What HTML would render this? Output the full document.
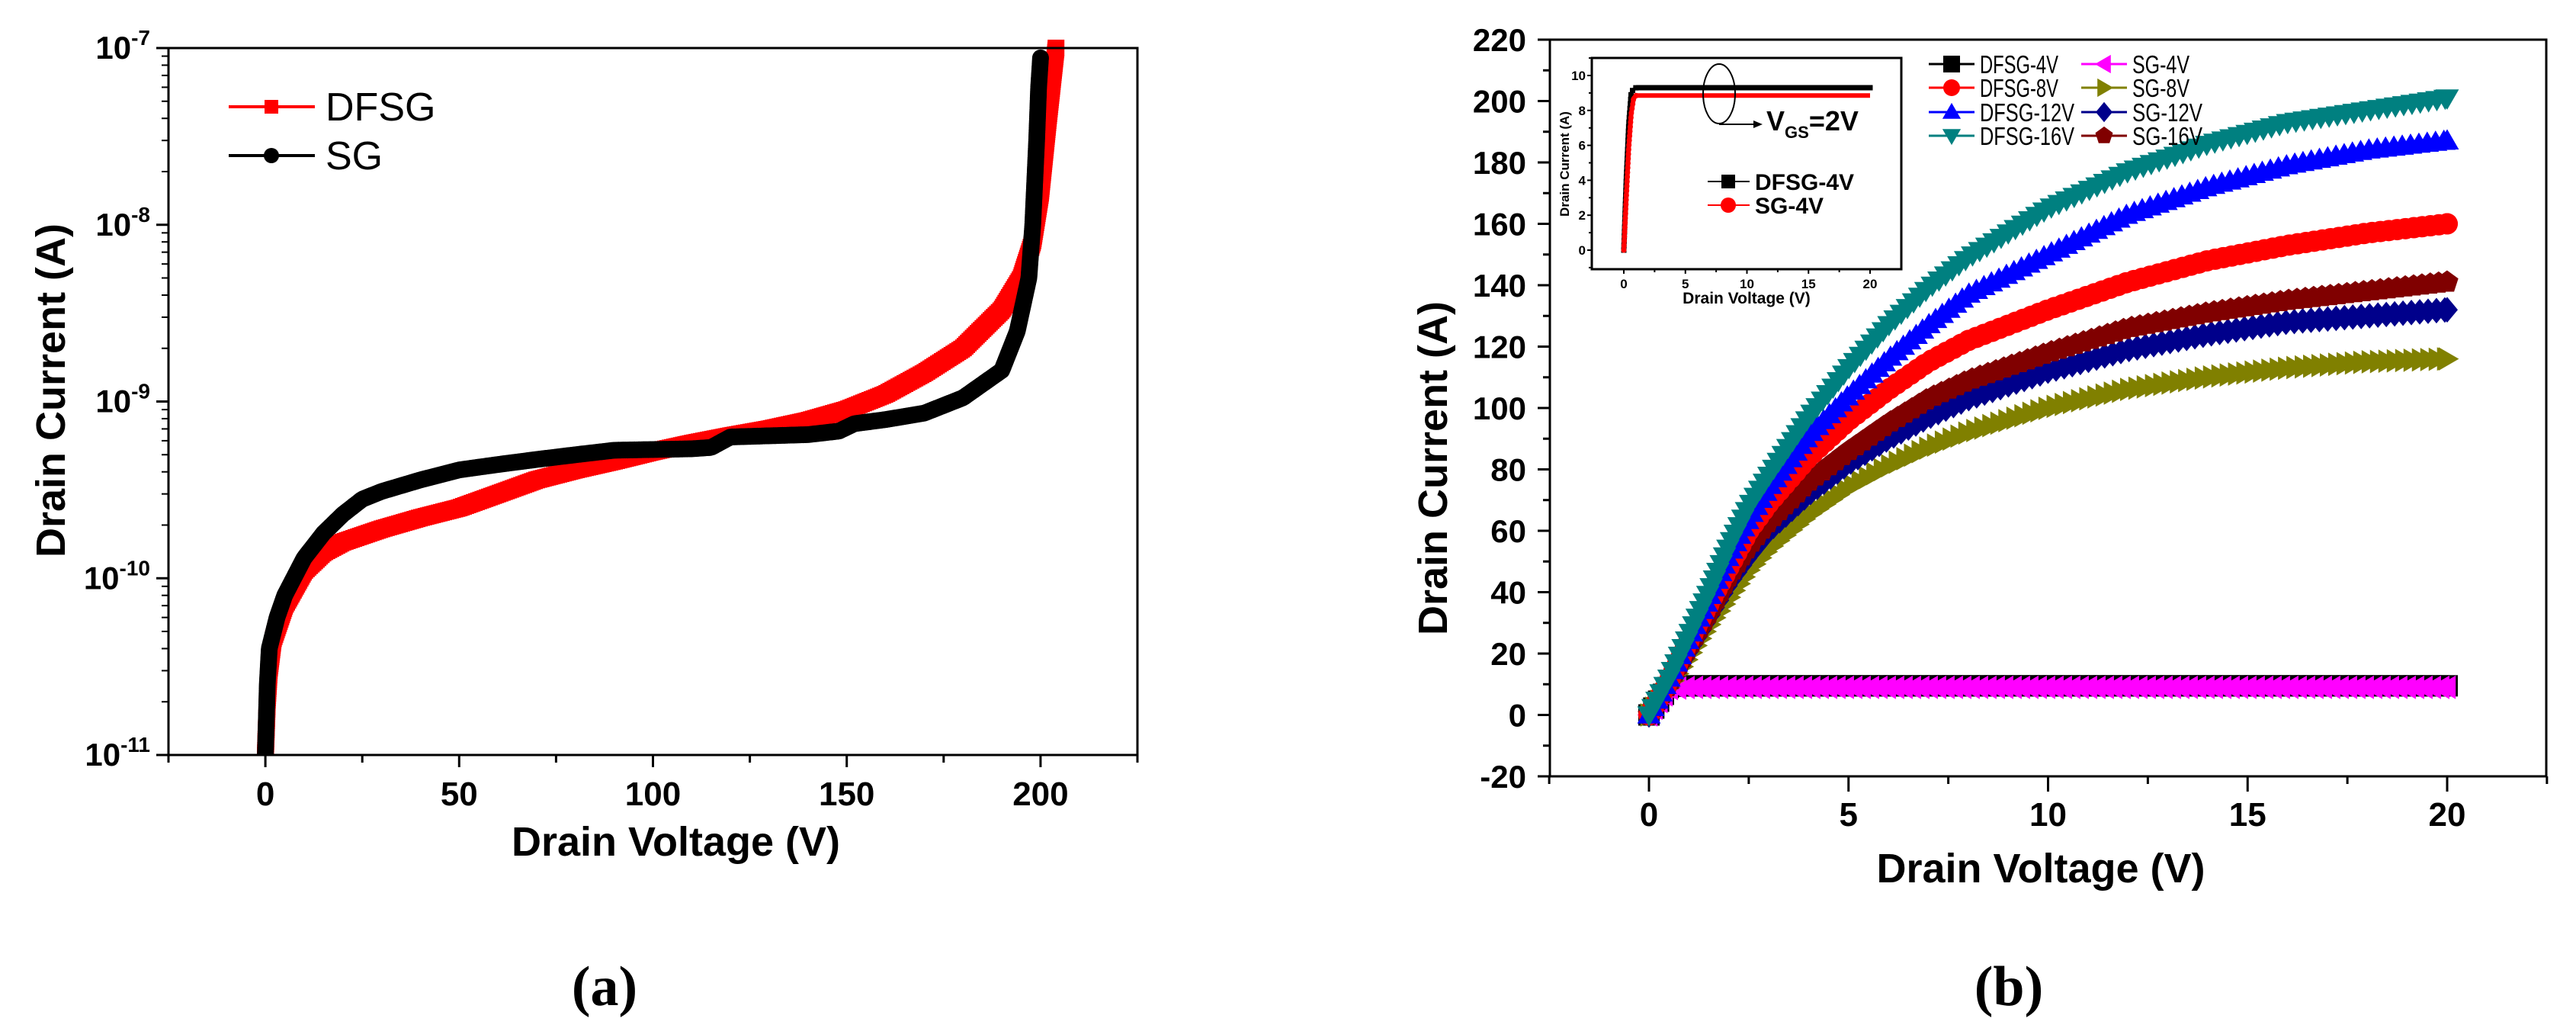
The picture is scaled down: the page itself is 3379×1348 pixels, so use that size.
<!DOCTYPE html>
<html><head><meta charset="utf-8"><style>
html,body{margin:0;padding:0;background:#fff;}
svg{display:block;font-family:"Liberation Sans",Arial,sans-serif;}
</style></head><body>
<svg id="s" width="3379" height="1348" viewBox="0 0 3379 1348" xmlns="http://www.w3.org/2000/svg">
<g id="ga"></g>
<g id="gb"></g>
<text x="793" y="1318" font-family="Liberation Serif,serif" font-weight="bold" font-size="74" text-anchor="middle">(a)</text>
<text x="2635" y="1318" font-family="Liberation Serif,serif" font-weight="bold" font-size="74" text-anchor="middle">(b)</text>
</svg>
<script>
// ---- chart (a) data ----
const aDfsgV=[0,0.5,1,2,5,10,15,20,30,40,50,60,70,80,90,100,110,120,130,140,150,160,170,180,190,195,198,200,202,204];
const aDfsgI=[1e-11,2e-11,3e-11,4.5e-11,7e-11,1.1e-10,1.4e-10,1.6e-10,1.9e-10,2.2e-10,2.5e-10,3e-10,3.6e-10,4.1e-10,4.6e-10,5.2e-10,5.8e-10,6.4e-10,7e-10,7.8e-10,9e-10,1.1e-9,1.45e-9,2e-9,3.3e-9,5e-9,8e-9,1.5e-8,4e-8,1e-7];
const aSgV=[0,0.5,1,3,5,10,15,20,25,30,40,50,60,70,80,90,110,115,120,140,148,152,160,170,180,190,194,197,198,199,199.5,200];
const aSgI=[1e-11,2.5e-11,4e-11,6e-11,8e-11,1.3e-10,1.8e-10,2.3e-10,2.8e-10,3.1e-10,3.6e-10,4.1e-10,4.4e-10,4.7e-10,5e-10,5.3e-10,5.4e-10,5.5e-10,6.3e-10,6.5e-10,6.8e-10,7.5e-10,7.9e-10,8.6e-10,1.05e-9,1.5e-9,2.5e-9,5e-9,1e-8,3e-8,6e-8,8.8e-8];
const aXTicks=[0,50,100,150,200];
const aYTicks=[-11,-10,-9,-8,-7];
// ---- chart (b) data ----
const bV=[0,0.5,1,1.5,2,2.5,3,4,5,6,7,8,10,12,14,16,18,20];
const bDfsg16=[0,12,26,40,55,68,78,97,113,127,139,149,165,177,186,193,197,201];
const bDfsg12=[0,12,25,38,52,64,74,91,104,116,127,137,150,163,172,179,184,187];
const bDfsg8=[0,11,24,36,48,60,69,84,96,106,115,122,132,141,148,153,157,160];
const bSg16=[0,10,22,33,45,55,63,76,86,95,103,109,118,126,131,135,138,141];
const bSg12=[0,10,21,32,43,52,60,72,82,90,97,103,112,119,124,128,130,132];
const bSg8=[0,9,19,29,38,47,54,65,74,81,87,92,100,106,110,113,115,116];
const bDfsg4=[0,9.3,9.5,9.5,9.5,9.5,9.5,9.5,9.5,9.5,9.5,9.5,9.5,9.5,9.5,9.5,9.5,9.5];
const bSg4=[0,8.6,9,9,9,9,9,9,9,9,9,9,9,9,9,9,9,9];
const bXTicks=[0,5,10,15,20];
const bYTicks=[-20,0,20,40,60,80,100,120,140,160,180,200,220];
// ---- inset data ----
const inV=[0,0.2,0.4,0.6,0.8,1,5,10,15,20];
const inDfsg=[0,4,7.2,9,9.25,9.3,9.3,9.3,9.3,9.3];
const inSg=[0,3,5.9,7.8,8.7,8.85,8.85,8.85,8.85,8.85];
const inXTicks=[0,5,10,15,20];
const inYTicks=[0,2,4,6,8,10];

const NS="http://www.w3.org/2000/svg";
function mk(p,tag,at,txt){const e=document.createElementNS(NS,tag);for(const k in at)e.setAttribute(k,at[k]);if(txt!==undefined)e.textContent=txt;p.appendChild(e);return e;}
function markerShape(p,type,x,y,s,c){
  let e;
  if(type==='sq')e=mk(p,'rect',{x:x-s/2,y:y-s/2,width:s,height:s,fill:c});
  else if(type==='ci')e=mk(p,'circle',{cx:x,cy:y,r:s/2,fill:c});
  else {let pts;const h=s/2;
    if(type==='up')pts=[[0,-h*1.1],[h*1.1,h*0.8],[-h*1.1,h*0.8]];
    else if(type==='dn')pts=[[0,h*1.1],[h*1.1,-h*0.8],[-h*1.1,-h*0.8]];
    else if(type==='lt')pts=[[-h*1.1,0],[h*0.8,h*1.1],[h*0.8,-h*1.1]];
    else if(type==='rt')pts=[[h*1.1,0],[-h*0.8,h*1.1],[-h*0.8,-h*1.1]];
    else if(type==='di')pts=[[0,-h*1.2],[h*1.0,0],[0,h*1.2],[-h*1.0,0]];
    else pts=[0,1,2,3,4].map(i=>{const a=-Math.PI/2+i*2*Math.PI/5;return [h*1.1*Math.cos(a),h*1.1*Math.sin(a)];});
    e=mk(p,'polygon',{points:pts.map(q=>(x+q[0])+','+(y+q[1])).join(' '),fill:c});}
  return e;
}
function series(g,xs,ys,sx,sy,color,lw,type,size,step,name){
  const grp=mk(g,'g',{});
  
  
  const d=xs.map((v,i)=>(i?'L':'M')+sx(v).toFixed(1)+','+sy(ys[i]).toFixed(1)).join(' ');
  const path=mk(grp,'path',{d:d,fill:'none',stroke:color,'stroke-width':lw,'stroke-linejoin':'round'});
  if(type){const L=path.getTotalLength();
    for(let l=0;l<=L;l+=step){const pt=path.getPointAtLength(l);markerShape(grp,type,pt.x,pt.y,size,color);}
    const pt=path.getPointAtLength(L);markerShape(grp,type,pt.x,pt.y,size,color);}
  return grp;
}
function frame(g,x0,y0,x1,y1,lw){mk(g,'rect',{x:x0,y:y0,width:x1-x0,height:y1-y0,fill:'none',stroke:'#000','stroke-width':lw});}

// ===== chart a =====
(function(){
const g=document.getElementById('ga');
const L=221,R=1492,T=63,B=990;
const sx=v=>L+(v+25)/250*(R-L);
const sy=v=>B-(Math.log10(v)+11)/4*(B-T);
const clip=mk(g,'clipPath',{id:'ca'});mk(clip,'rect',{x:L,y:T-30,width:R-L,height:B-T+30});
const plot=mk(g,'g',{'clip-path':'url(#ca)'});
series(plot,aDfsgV,aDfsgI,sx,sy,'#ff0000',8,'sq',22,3,'dfsg-series');
series(plot,aSgV,aSgI,sx,sy,'#000',8,'ci',22,3,'sg-series');
frame(g,L,T,R,B,3);
aXTicks.forEach(v=>{const x=sx(v);mk(g,'line',{x1:x,y1:B,x2:x,y2:B+16,stroke:'#000','stroke-width':3});
  const t=mk(g,'text',{x:x,y:1056,'font-size':44,'font-weight':'bold','text-anchor':'middle'},v);
  });
[-25,25,75,125,175,225].forEach(v=>{const x=sx(v);mk(g,'line',{x1:x,y1:B,x2:x,y2:B+10,stroke:'#000','stroke-width':3});});
aYTicks.forEach(e=>{const y=sy(Math.pow(10,e));mk(g,'line',{x1:L-16,y1:y,x2:L,y2:y,stroke:'#000','stroke-width':3});
  const t=mk(g,'text',{x:L-24,y:y+14,'font-size':42,'font-weight':'bold','text-anchor':'end'});
  mk(t,'tspan',{},'10');mk(t,'tspan',{dy:-18,'font-size':28},String(e));
  
  if(e<-7)for(let m=2;m<=9;m++){const yy=sy(m*Math.pow(10,e));mk(g,'line',{x1:L-9,y1:yy,x2:L,y2:yy,stroke:'#000','stroke-width':2});}});
let t=mk(g,'text',{x:(L+R)/2+30,y:1122,'font-size':54,'font-weight':'bold','text-anchor':'middle'},'Drain Voltage (V)');

t=mk(g,'text',{x:85,y:512,'font-size':54,'font-weight':'bold','text-anchor':'middle',transform:'rotate(-90 85 512)'},'Drain Current (A)');

const lg=mk(g,'g',{});
mk(lg,'line',{x1:300,y1:140,x2:413,y2:140,stroke:'#f00','stroke-width':4});markerShape(lg,'sq',356,140,18,'#f00');
mk(lg,'text',{x:427,y:158,'font-size':52},'DFSG');
mk(lg,'line',{x1:300,y1:204,x2:413,y2:204,stroke:'#000','stroke-width':4});markerShape(lg,'ci',356,204,20,'#000');
mk(lg,'text',{x:427,y:222,'font-size':52},'SG');
})();

// ===== chart b =====
(function(){
const g=document.getElementById('gb');
const L=2033,R=3340,T=52,B=1018;
const sx=v=>2163+v/20*(3210-2163);
const sy=v=>B-(v+20)/240*(B-T);
const defs=[
 [bDfsg4,'#000','sq','dfsg-4v-series'],[bSg4,'#ff00ff','lt','sg-4v-series'],
 [bSg8,'#808000','rt','sg-8v-series'],[bSg12,'#00008b','di','sg-12v-series'],[bSg16,'#800000','pe','sg-16v-series'],
 [bDfsg8,'#ff0000','ci','dfsg-8v-series'],[bDfsg12,'#0000ff','up','dfsg-12v-series'],[bDfsg16,'#008080','dn','dfsg-16v-series']];
defs.forEach(d=>series(g,bV,d[0],sx,sy,d[1],3,d[2],28,11,d[3]));
frame(g,L,T,R,B,3);
bXTicks.forEach(v=>{const x=sx(v);mk(g,'line',{x1:x,y1:B,x2:x,y2:B+20,stroke:'#000','stroke-width':3});
  const t=mk(g,'text',{x:x,y:1083,'font-size':44,'font-weight':'bold','text-anchor':'middle'},v);
  });
[-2.5,2.5,7.5,12.5,17.5,22.5].forEach(v=>{const x=sx(v);mk(g,'line',{x1:x,y1:B,x2:x,y2:B+10,stroke:'#000','stroke-width':3});});
bYTicks.forEach(v=>{const y=sy(v);mk(g,'line',{x1:L-16,y1:y,x2:L,y2:y,stroke:'#000','stroke-width':3});
  if(v<220){const y2=sy(v+10);mk(g,'line',{x1:L-9,y1:y2,x2:L,y2:y2,stroke:'#000','stroke-width':3});}
  const t=mk(g,'text',{x:2002,y:y+15,'font-size':42,'font-weight':'bold','text-anchor':'end'},v);
  });
let t=mk(g,'text',{x:2677,y:1157,'font-size':54,'font-weight':'bold','text-anchor':'middle'},'Drain Voltage (V)');

t=mk(g,'text',{x:1898,y:614,'font-size':54,'font-weight':'bold','text-anchor':'middle',transform:'rotate(-90 1898 614)'},'Drain Current (A)');

// legend
const lg=mk(g,'g',{});
const rows=[84,115,147,178];
const leg=[['DFSG-4V','#000','sq',103],['DFSG-8V','#f00','ci',103],['DFSG-12V','#00f','up',124],['DFSG-16V','#008080','dn',124],
 ['SG-4V','#ff00ff','lt',75],['SG-8V','#808000','rt',75],['SG-12V','#00008b','di',92],['SG-16V','#800000','pe',92]];
leg.forEach((e,i)=>{const col=i<4?0:1,y=rows[i%4],x0=col?2730:2530;
  const it=mk(lg,'g',{});
  mk(it,'line',{x1:x0,y1:y,x2:x0+60,y2:y,stroke:e[1],'stroke-width':3});markerShape(it,e[2],x0+30,y,22,e[1]);
  mk(it,'text',{x:x0+67,y:y+12,'font-size':33,textLength:e[3],lengthAdjust:'spacingAndGlyphs'},e[0]);});
// inset
const ig=mk(g,'g',{});
mk(ig,'rect',{x:2088,y:76,width:406,height:277,fill:'#fff'});
const iL=2088,iR=2494,iT=76,iB=353;
const ix=v=>2130+v/20*(2453-2130);
const iy=v=>328-v*22.9;
series(ig,inV,inDfsg,ix,iy,'#000',3,'sq',7,6,'inset-dfsg-4v');
series(ig,inV.slice(0,6),inSg.slice(0,6),ix,iy,'#f00',3,'ci',7,6,'inset-sg-4v-rise');
series(ig,inV,inSg,ix,iy,'#f00',6,null,0,0,'inset-sg-4v');
series(ig,inV.slice(5),inDfsg.slice(5),ix,iy,'#000',7,null,0,0,'inset-dfsg-4v-flat');
frame(ig,iL,iT,iR,iB,3);
inXTicks.forEach(v=>{const x=ix(v);mk(ig,'line',{x1:x,y1:iB,x2:x,y2:iB+6,stroke:'#000','stroke-width':2});
  mk(ig,'text',{x:x,y:378,'font-size':17,'font-weight':'bold','text-anchor':'middle'},v);
  if(v<20){const x2=ix(v+2.5);mk(ig,'line',{x1:x2,y1:iB,x2:x2,y2:iB+4,stroke:'#000','stroke-width':2});}});
for(let v=-1;v<=11;v++){const y=iy(v);mk(ig,'line',{x1:iL-(v%2===0?6:4),y1:y,x2:iL,y2:y,stroke:'#000','stroke-width':2});}
inYTicks.forEach(v=>{mk(ig,'text',{x:2080,y:iy(v)+6,'font-size':17,'font-weight':'bold','text-anchor':'end'},v);});
mk(ig,'text',{x:2291,y:398,'font-size':21,'font-weight':'bold','text-anchor':'middle'},'Drain Voltage (V)');
mk(ig,'text',{x:2058,y:215,'font-size':17,'font-weight':'bold','text-anchor':'middle',transform:'rotate(-90 2058 215)'},'Drain Current (A)');
mk(ig,'ellipse',{cx:2255,cy:123,rx:21,ry:39,fill:'none',stroke:'#000','stroke-width':2});
mk(ig,'line',{x1:2255,y1:163,x2:2305,y2:163,stroke:'#000','stroke-width':2});
mk(ig,'polygon',{points:'2312,163 2300,158 2300,168',fill:'#000'});
const vt=mk(ig,'text',{x:2317,y:171,'font-size':36,'font-weight':'bold'});
mk(vt,'tspan',{},'V');mk(vt,'tspan',{dy:10,'font-size':22},'GS');mk(vt,'tspan',{dy:-10},'=2V');
mk(ig,'line',{x1:2240,y1:238,x2:2295,y2:238,stroke:'#000','stroke-width':2});markerShape(ig,'sq',2267,238,18,'#000');
mk(ig,'text',{x:2302,y:249,'font-size':30,'font-weight':'bold'},'DFSG-4V');
mk(ig,'line',{x1:2240,y1:269,x2:2295,y2:269,stroke:'#f00','stroke-width':2});markerShape(ig,'ci',2267,269,20,'#f00');
mk(ig,'text',{x:2302,y:280,'font-size':30,'font-weight':'bold'},'SG-4V');
})();
</script>
</body></html>
